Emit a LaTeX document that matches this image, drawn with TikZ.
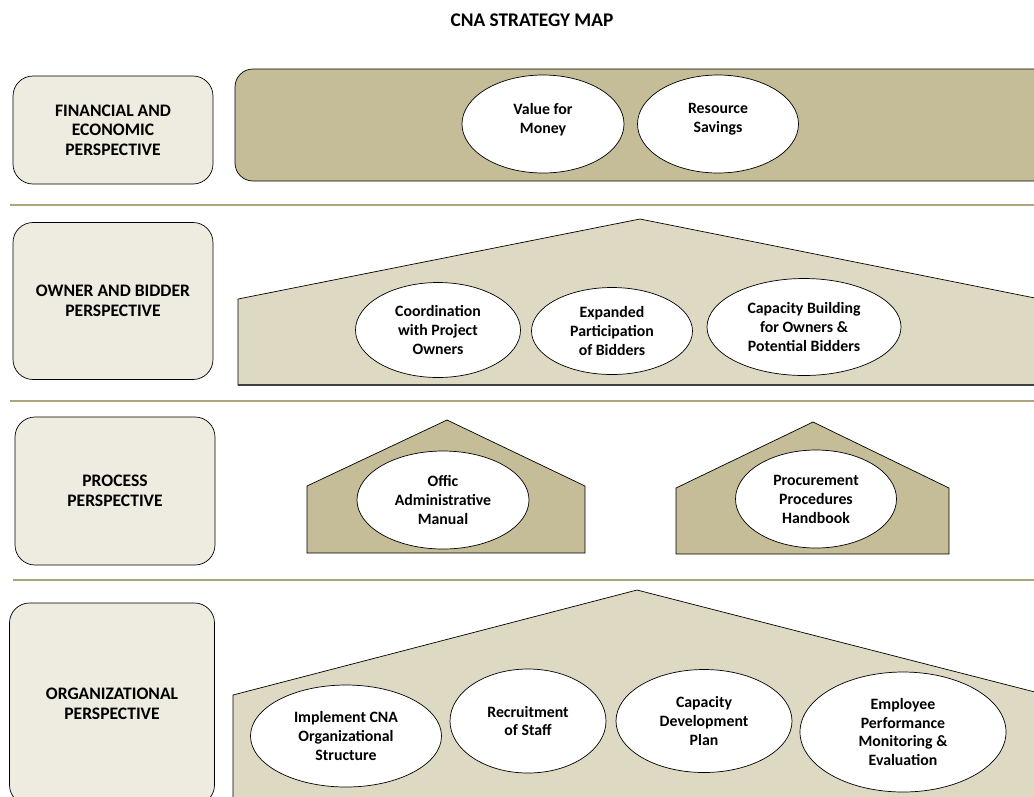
\documentclass[tikz,border=0pt]{standalone}
\usepackage{fontspec}
\setmainfont{Carlito}
\usetikzlibrary{shapes.geometric}
\definecolor{tanlight}{HTML}{EEECE1}
\definecolor{tanmid}{HTML}{DDD9C3}
\definecolor{tandark}{HTML}{C4BD97}
\definecolor{rule}{HTML}{ADA47A}
\begin{document}
\begin{tikzpicture}[x=0.02cm,y=-0.02cm,
        every node/.style={font=\fontsize{9}{10.8}\selectfont\bfseries,align=center},
        persp/.style={draw,fill=tanlight,rounded corners=0.4cm,minimum width=4cm,
            font=\fontsize{10}{11.2}\selectfont\bfseries},
        oval/.style 2 args={draw,fill=white,ellipse,inner sep=0pt,
            minimum width=#1*0.02cm,minimum height=#2*0.02cm},
        band/.style={draw,line join=miter}]
    \useasboundingbox (0,0) rectangle (1034,796);
    \clip (0,0) rectangle (1034,796);
    \node[font=\fontsize{11}{13}\selectfont\bfseries] (title) at (532,20) {CNA STRATEGY MAP};
    %% separators
    \draw[rule,line width=0.9pt] (10,205) -- (1034,205);
    \draw[rule,line width=0.9pt] (10,401) -- (1034,401);
    \draw[rule,line width=0.9pt] (13,580) -- (1034,580);
    %% perspectives
    \node[persp,minimum height=108*0.02cm] (fin) at (113,130) {FINANCIAL AND\\ECONOMIC\\PERSPECTIVE};
    \node[persp,minimum height=157*0.02cm] (own) at (113,301) {OWNER AND BIDDER\\PERSPECTIVE};
    \node[persp,minimum height=148*0.02cm] (proc) at (115,491) {PROCESS\\PERSPECTIVE};
    \node[persp,minimum width=205*0.02cm,minimum height=202*0.02cm] (org) at (112,704) {ORGANIZATIONAL\\PERSPECTIVE};
    %% financial band
    \draw[fill=tandark,rounded corners=0.36cm] (235,69) rectangle (1070,181);
    \node[oval={162}{98}] (vfm) at (543,124) {Value for\\Money\\[-0.14cm]};
    \node[oval={161}{98}] (sav) at (718,124) {Resource\\Savings\\[-0.14cm]};
    %% owner and bidder roof
    \draw[band,fill=tanmid] (238,385) -- (238,299) -- (640,219) -- (1070,305) -- (1070,385) -- cycle;
    \draw[line width=1.2pt,black!75] (238,385) -- (1034,385);
    \node[oval={165}{95}] (coord) at (438,330) {Coordination\\with Project\\Owners};
    \node[oval={161}{87}] (part) at (612,331) {Expanded\\Participation\\of Bidders};
    \node[oval={194}{97}] (capb) at (804,327) {Capacity Building\\for Owners \&\\Potential Bidders};
    %% process houses
    \draw[band,fill=tandark] (307,553) -- (307,486) -- (447,420) -- (585,486) -- (585,553) -- cycle;
    \draw[band,fill=tandark] (676,554) -- (676,488) -- (813,422) -- (949,488) -- (949,554) -- cycle;
    \node[oval={172}{98}] (offm) at (443,500) {Offic\\Administrative\\Manual};
    \node[oval={161}{98}] (proch) at (816,499) {Procurement\\Procedures\\Handbook};
    %% organizational roof
    \draw[band,fill=tanmid] (233,820) -- (233,695) -- (637,590) -- (1070,701) -- (1070,820) -- cycle;
    \node[oval={191}{102}] (impl) at (346,736) {Implement CNA\\Organizational\\Structure};
    \node[oval={156}{104}] (recr) at (528,721) {Recruitment\\of Staff};
    \node[oval={176}{103}] (capd) at (704,721) {Capacity\\Development\\Plan};
    \node[oval={206}{120}] (emp) at (903,732) {Employee\\Performance\\Monitoring \&\\Evaluation};
\end{tikzpicture}
\end{document}
